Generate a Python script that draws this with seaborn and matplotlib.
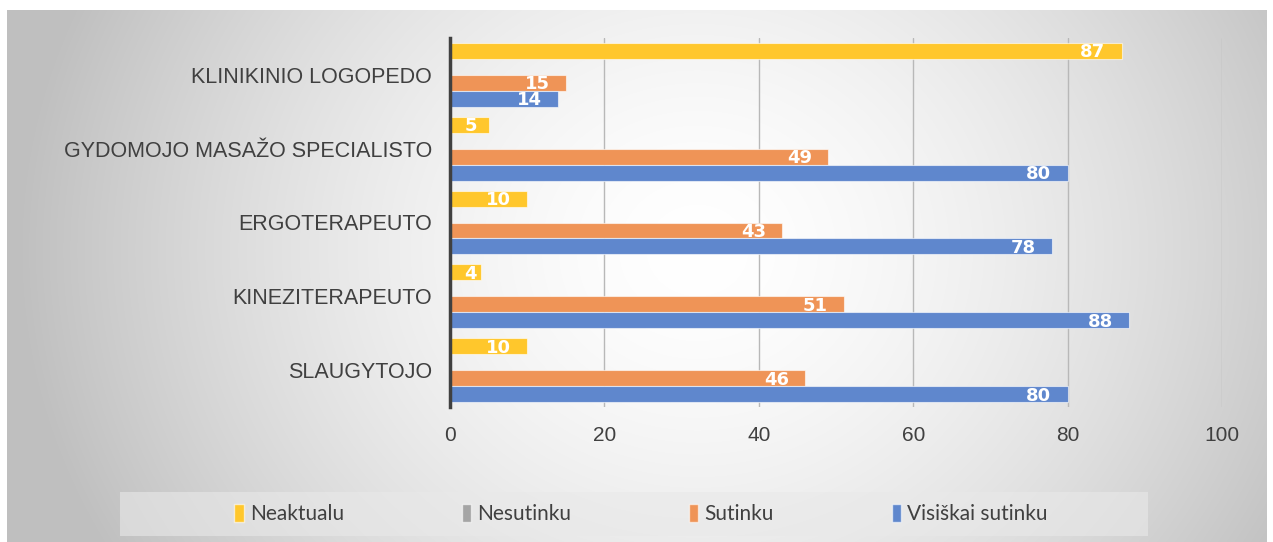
import numpy as np
import pandas as pd
import matplotlib
matplotlib.use("Agg")
import matplotlib.pyplot as plt
from matplotlib.patches import Patch, Rectangle
import seaborn as sns

categories = ["KLINIKINIO LOGOPEDO", "GYDOMOJO MASAŽO SPECIALISTO", "ERGOTERAPEUTO",
              "KINEZITERAPEUTO", "SLAUGYTOJO"]
series = ["Neaktualu", "Nesutinku", "Sutinku", "Visiškai sutinku"]
neaktualu = [87, 5, 10, 4, 10]
nesutinku = [0, 0, 0, 0, 0]
sutinku = [15, 49, 43, 51, 46]
visiskai = [14, 80, 78, 88, 80]
colors = ["#FFC72C", "#A5A5A5", "#EF9457", "#5F87CD"]

rows = []
for name, vals in zip(series, [neaktualu, nesutinku, sutinku, visiskai]):
    for cat, v in zip(categories, vals):
        rows.append({"category": cat, "series": name, "value": v})
df = pd.DataFrame(rows)

sns.set_style("white")
plt.rcParams["font.family"] = ["Liberation Sans", "DejaVu Sans"]

W, H = 1273, 542
fig = plt.figure(figsize=(W / 100, H / 100), dpi=100)
fig.patch.set_facecolor("white")

# radial gradient background
bg = fig.add_axes([7 / W, 0, 1260 / W, 532 / H])
yy, xx = np.mgrid[0:532, 0:1260]
d = np.sqrt((xx - 690) ** 2 + ((yy - 240) / 0.9) ** 2)
t = np.clip(d / 680, 0, 1)
g = 1.0 - 0.25 * t ** 1.6
bg.imshow(np.dstack([g, g, g]), aspect="auto", interpolation="bilinear")
bg.axis("off")

ax = fig.add_axes([450 / W, 1 - 407 / H, 772 / W, 369 / H])
ax.set_facecolor((1, 1, 1, 0))
sns.barplot(data=df, y="category", x="value", hue="series", order=categories,
            hue_order=series, palette=colors, saturation=1, width=0.865, gap=0, ax=ax,
            legend=False, edgecolor=(1, 1, 1, 0.6), linewidth=0.8, zorder=3)

for container in ax.containers:
    for bar in container:
        w = bar.get_width()
        if w > 0:
            ax.text(max(w - 2.1, 3.5), bar.get_y() + bar.get_height() / 2 + 0.02,
                    f"{w:.0f}", ha="right", va="center", color="white",
                    fontsize=13, fontweight="bold", family="DejaVu Sans",
                    zorder=5)

ax.set_xlim(0, 100)
ax.set_ylim(4.5, -0.5)
ax.set_xticks([0, 20, 40, 60, 80, 100])
ax.grid(axis="x", color="#b8b8b8", linewidth=1, zorder=0)
ax.set_axisbelow(True)
for s in ["top", "right", "bottom"]:
    ax.spines[s].set_visible(False)
ax.spines["left"].set_color("#404040")
ax.spines["left"].set_linewidth(2.5)
ax.spines["left"].set_zorder(6)
ax.tick_params(axis="y", length=0, pad=13, labelsize=15.5, labelcolor="#404040")
ax.tick_params(axis="x", length=0, pad=14, labelsize=15, labelcolor="#404040")
ax.set_xlabel("")
ax.set_ylabel("")

# legend box
fig.patches.append(Rectangle((120 / W, 1 - 536 / H), 1028 / W, 44 / H,
                             transform=fig.transFigure, facecolor="#e9e9e9",
                             alpha=0.6, edgecolor="none", zorder=1))
handles = [Patch(facecolor=c, edgecolor=(1, 1, 1, 0.6), label=n) for c, n in zip(colors, series)]
fig.legend(handles=handles, loc="center", bbox_to_anchor=(641 / W, 1 - 514 / H),
           ncol=4, frameon=False, handlelength=0.45, handleheight=1.0,
           handletextpad=0.3, columnspacing=5.65,
           prop={"family": ["Lato", "DejaVu Sans"], "size": 15}, labelcolor="#404040")

fig.savefig("out.png", dpi=100)
